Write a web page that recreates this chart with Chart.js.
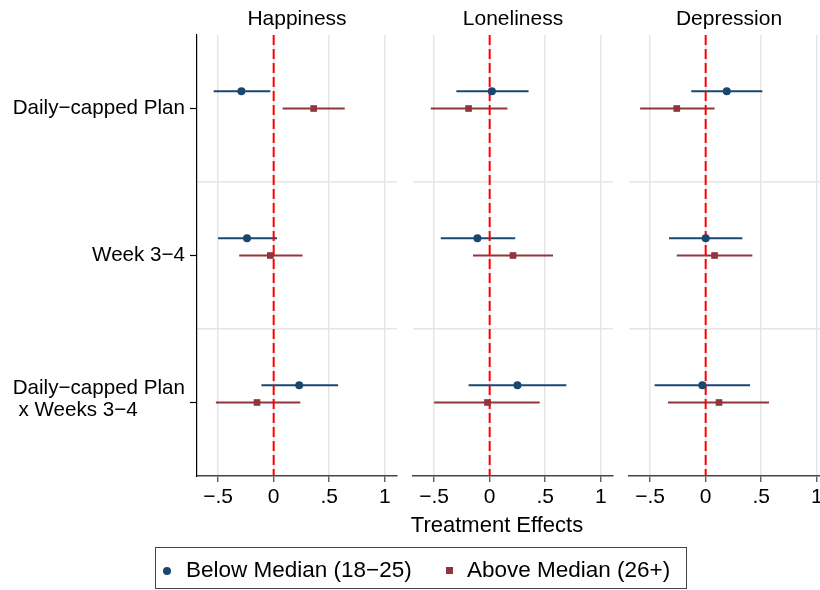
<!DOCTYPE html>
<html>
<head>
<meta charset="utf-8">
<title>Treatment Effects by Age Group</title>
<script src="https://cdn.jsdelivr.net/npm/chart.js@4/dist/chart.umd.min.js"></script>
<style>
  html, body { margin: 0; padding: 0; background: #fff; overflow: hidden; }
  #wrap { position: relative; width: 820px; height: 590px; overflow: hidden;
          font-family: "Liberation Sans", Arial, Helvetica, sans-serif; color: #000; }
  #wrap canvas { position: absolute; top: 0; }
  #xtitle { position: absolute; left: 297px; width: 400px; top: 512px; text-align: center;
            font-size: 22px; line-height: 26px; }
  #legend { position: absolute; left: 155px; top: 547px; width: 532px; height: 42px;
            box-sizing: border-box; border: 1px solid #444; }
  #legend .sym { position: absolute; }
  #legend .dot { left: 7px; top: 19px; width: 8px; height: 8px; border-radius: 50%; background: #1a476f; }
  #legend .sq { left: 290px; top: 19px; width: 7px; height: 7px; background: #90353b; }
  #legend .txt { position: absolute; top: 9px; font-size: 22.5px; line-height: 26px; white-space: nowrap; }
</style>
</head>
<body>
<div id="wrap">
  <canvas id="p0" width="405" height="520" style="left:0px"></canvas>
  <canvas id="p1" width="216" height="520" style="left:405px"></canvas>
  <canvas id="p2" width="216" height="520" style="left:621px"></canvas>
  <div id="xtitle">Treatment Effects</div>
  <div id="legend">
    <span class="sym dot"></span><span class="txt" style="left:30px">Below Median (18−25)</span>
    <span class="sym sq"></span><span class="txt" style="left:311px">Above Median (26+)</span>
  </div>
</div>
<script>
// Outcomes (one panel each) and regression terms (rows)
const outcomes = ['Happiness', 'Loneliness', 'Depression'];
const categories = [['Daily−capped Plan'], ['Week 3−4'], ['Daily−capped Plan', ' x Weeks 3−4']];

// Coefficients and 95% CI bounds, indexed [outcome][term]
const belowEst = [[-0.29, -0.24, 0.23], [0.02, -0.11, 0.25], [0.19, 0.00, -0.03]];
const belowLo  = [[-0.54, -0.50, -0.11], [-0.30, -0.44, -0.19], [-0.13, -0.33, -0.46]];
const belowHi  = [[-0.03, 0.03, 0.58], [0.35, 0.23, 0.69], [0.51, 0.33, 0.40]];
const aboveEst = [[0.36, -0.03, -0.15], [-0.19, 0.21, -0.02], [-0.26, 0.08, 0.12]];
const aboveLo  = [[0.08, -0.31, -0.52], [-0.53, -0.15, -0.50], [-0.59, -0.26, -0.34]];
const aboveHi  = [[0.64, 0.26, 0.24], [0.16, 0.57, 0.45], [0.08, 0.42, 0.57]];

// Axis ticks
const xTicks = [-0.5, 0, 0.5, 1];
const xTickLabels = ['−.5', '0', '.5', '1'];

const NAVY = '#1a476f';
const MAROON = '#90353b';
const GRID = '#e6e6e6';
const FONT = '"Liberation Sans", Arial, Helvetica, sans-serif';
const BELOW_SHIFT = -0.118;   // vertical offset of the younger group within a row
const ABOVE_SHIFT = 0;

Chart.defaults.font.family = FONT;
Chart.defaults.color = '#000';

// Outcome name centred above each plot region
const panelTitle = {
  id: 'panelTitle',
  afterDraw(chart, args, opts) {
    const { ctx, chartArea } = chart;
    ctx.save();
    ctx.font = '21px ' + FONT;
    ctx.fillStyle = '#000';
    ctx.textAlign = 'center';
    ctx.textBaseline = 'middle';
    ctx.fillText(opts.text, (chartArea.left + chartArea.right) / 2, 19);
    ctx.restore();
  }
};

// Row labels for the first panel: right-aligned blocks, lines left-aligned within a block
const rowLabels = {
  id: 'rowLabels',
  afterDraw(chart, args, opts) {
    if (!opts.show) return;
    const { ctx, chartArea } = chart;
    const y = chart.scales.y;
    const lh = 22;
    ctx.save();
    ctx.font = '20.6px ' + FONT;
    ctx.fillStyle = '#000';
    ctx.textAlign = 'left';
    ctx.textBaseline = 'middle';
    categories.forEach((lines, i) => {
      const yc = y.getPixelForValue(i + 1);
      const w = Math.max(...lines.map(l => ctx.measureText(l).width));
      const x0 = chartArea.left - 12 - w;
      lines.forEach((l, k) => {
        ctx.fillText(l, x0, yc + (k - (lines.length - 1) / 2) * lh - (lines.length > 1 ? 3 : 0));
      });
    });
    ctx.restore();
  }
};

function ciDatasets(lo, hi, shift, color) {
  return categories.map((_, c) => ({
    data: [{ x: lo[c], y: c + 1 + shift }, { x: hi[c], y: c + 1 + shift }],
    showLine: true, borderColor: color, borderWidth: 2, pointRadius: 0,
    xAxisID: 'x', yAxisID: 'y', order: 2
  }));
}

function makePanel(k, canvasId) {
  const first = k === 0;
  const datasets = [
    ...ciDatasets(belowLo[k], belowHi[k], BELOW_SHIFT, NAVY),
    ...ciDatasets(aboveLo[k], aboveHi[k], ABOVE_SHIFT, MAROON),
    {
      // reference line at zero
      data: [{ x: 0, y: 0.5 }, { x: 0, y: 3.5 }],
      showLine: true, borderColor: '#ff0000', borderWidth: 2, borderDash: [10, 4],
      pointRadius: 0, xAxisID: 'x', yAxisID: 'y', order: 1
    },
    {
      label: 'Below Median (18−25)',
      data: belowEst[k].map((v, c) => ({ x: v, y: c + 1 + BELOW_SHIFT })),
      pointStyle: 'circle', pointRadius: 4, backgroundColor: NAVY, borderColor: NAVY, borderWidth: 0,
      showLine: false, xAxisID: 'x', yAxisID: 'y', order: 0
    },
    {
      label: 'Above Median (26+)',
      data: aboveEst[k].map((v, c) => ({ x: v, y: c + 1 + ABOVE_SHIFT })),
      pointStyle: 'rect', pointRadius: 4.7, backgroundColor: MAROON, borderColor: MAROON, borderWidth: 0,
      showLine: false, xAxisID: 'x', yAxisID: 'y', order: 0
    }
  ];

  return new Chart(document.getElementById(canvasId), {
    type: 'scatter',
    data: { datasets },
    options: {
      responsive: false,
      animation: false,
      events: [],
      devicePixelRatio: 1,
      layout: { padding: { left: first ? 0 : 8, right: 8, top: 35, bottom: 0 } },
      plugins: {
        legend: { display: false },
        tooltip: { enabled: false },
        title: { display: false },
        panelTitle: { text: outcomes[k] },
        rowLabels: { show: first }
      },
      scales: {
        x: {
          type: 'linear', position: 'bottom', min: -0.69, max: 1.11,
          afterBuildTicks: s => { s.ticks = xTicks.map(v => ({ value: v })); },
          afterFit: s => { s.height = 44; },
          ticks: {
            callback: (v, i) => xTickLabels[i],
            font: { size: 21 }, color: '#000', padding: 3, maxRotation: 0, autoSkip: false
          },
          grid: { color: GRID, lineWidth: 1.5, drawTicks: true, tickLength: 6, tickColor: '#444', tickWidth: 1.2 },
          border: { display: true, color: '#444', width: 1.5 }
        },
        y: {
          type: 'linear', position: 'left', reverse: true, min: 0.5, max: 3.5,
          display: first,
          afterBuildTicks: s => { s.ticks = categories.map((_, i) => ({ value: i + 1 })); },
          afterFit: s => { s.width = first ? 197 : 0; },
          ticks: { display: false },
          grid: { drawOnChartArea: false, drawTicks: true, tickLength: 7, tickColor: '#000', tickWidth: 1.2 },
          border: { display: true, color: '#000', width: 1.2 }
        },
        yGrid: {
          type: 'linear', position: 'right', reverse: true, min: 0.5, max: 3.5,
          afterBuildTicks: s => { s.ticks = [1.5, 2.5].map(v => ({ value: v })); },
          afterFit: s => { s.width = 0; },
          ticks: { display: false },
          grid: { color: GRID, lineWidth: 1.5, drawTicks: false },
          border: { display: false }
        }
      }
    },
    plugins: [panelTitle, rowLabels]
  });
}

makePanel(0, 'p0');
makePanel(1, 'p1');
makePanel(2, 'p2');
</script>
</body>
</html>
